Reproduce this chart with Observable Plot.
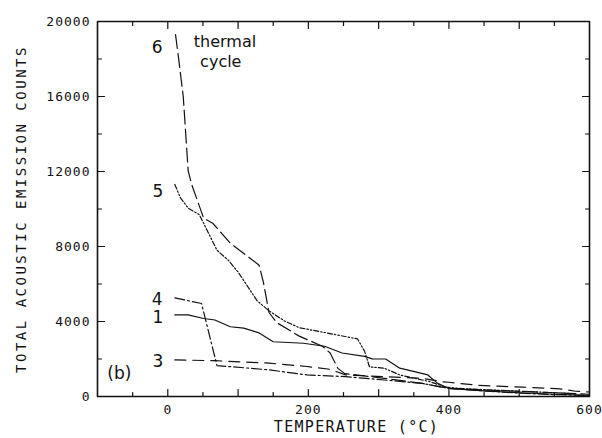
<!DOCTYPE html>
<html><head><meta charset="utf-8">
<script src="https://cdn.jsdelivr.net/npm/d3@7"></script>
<script src="https://cdn.jsdelivr.net/npm/@observablehq/plot@0.6"></script>
<style>
body{margin:0;background:#fff;}
</style></head><body><div id="chart"></div>
<script>
// Curve 1 (solid)
const t1 = [10, 29, 51, 67, 89, 108, 130, 150, 193, 223, 248, 280, 291, 310, 330, 351, 370, 384, 400, 450, 500, 550, 600];
const c1 = [4350, 4350, 4160, 4080, 3720, 3650, 3390, 2920, 2840, 2680, 2320, 2140, 2010, 2000, 1510, 1330, 1150, 700, 430, 300, 200, 120, 60];
// Curve 3 (dashed)
const t3 = [10, 67, 144, 198, 231, 253, 308, 362, 390, 400, 440, 470, 505, 558, 580, 600];
const c3 = [1950, 1910, 1780, 1600, 1450, 1150, 1060, 970, 790, 760, 600, 550, 500, 410, 280, 240];
// Curve 4 (dash-dot)
const t4 = [10, 48, 70, 144, 198, 253, 308, 362, 400, 450, 500, 550, 600];
const c4 = [5260, 4960, 1650, 1420, 1150, 1060, 880, 700, 430, 300, 180, 100, 50];
// Curve 5 (dash-dot-dot)
const t5 = [10, 18, 29, 45, 70, 86, 100, 127, 144, 166, 187, 215, 270, 280, 287, 308, 330, 351, 373, 395, 420, 470, 520, 580];
const c5 = [11310, 10590, 10050, 9690, 7800, 7270, 6640, 5110, 4570, 4030, 3670, 3470, 3070, 2410, 1580, 1510, 1150, 970, 790, 500, 420, 330, 250, 150];
// Curve 6 (long dash)
const t6 = [11, 15, 22, 29, 34, 51, 64, 89, 130, 136, 144, 155, 187, 220, 231, 242, 252, 308, 362, 400, 450, 500, 550, 600];
const c6 = [19300, 18150, 16000, 12030, 11310, 9510, 9240, 8170, 7000, 6100, 4480, 3940, 3220, 2680, 2320, 1500, 1220, 970, 700, 430, 350, 280, 200, 120];

// Curve labels and annotations
const curveLabels = ["6", "5", "4", "1", "3"];
const labelT = [-15, -14, -15, -14, -14];
const labelC = [18630, 10930, 5150, 4200, 1880];
const noteLines = ["thermal", "cycle"];
const noteT = [37, 46];
const noteC = [18930, 17870];
const panelLabel = "(b)";

// Axes
const xDomain = [-100, 600];
const yDomain = [0, 20000];
const xTickLabels = [0, 200, 400, 600];
const yTickLabels = [0, 4000, 8000, 12000, 16000, 20000];
const xMajor = [0, 100, 200, 300, 400, 500];
const xMinor = [-50, 50, 150, 250, 350, 450, 550];
const yMajor = [4000, 8000, 12000, 16000];
const yMinor = [2000, 6000, 10000, 14000, 18000];

const ink = "#111";
const W = 602, H = 438, ML = 97, MR = 13, MT = 21, MB = 42;
// data units per pixel, so tick lengths can be given in pixels
const xPerPx = (xDomain[1] - xDomain[0]) / (W - ML - MR);
const yPerPx = (yDomain[1] - yDomain[0]) / (H - MT - MB);

const series = [
  {t: t1, c: c1, dash: null},
  {t: t3, c: c3, dash: "11,7"},
  {t: t4, c: c4, dash: "10,3,2,3"},
  {t: t5, c: c5, dash: "5,2,1.5,2,1.5,2"},
  {t: t6, c: c6, dash: "14,5"}
];

const lineMarks = series.map(s => Plot.line(s.t.map((t, i) => ({T: t, C: s.c[i]})), {
  x: "T", y: "C", stroke: ink, strokeWidth: 1.2, strokeDasharray: s.dash
}));

// inward ticks on all four sides, as short two-point segments
const tickSegs = [];
let k = 0;
function addTicks(xs, ys, px) {
  for (const v of xs) {
    tickSegs.push({x: v, y: yDomain[0], k}, {x: v, y: yDomain[0] + px * yPerPx, k}); k++;
    tickSegs.push({x: v, y: yDomain[1], k}, {x: v, y: yDomain[1] - px * yPerPx, k}); k++;
  }
  for (const v of ys) {
    tickSegs.push({x: xDomain[0], y: v, k}, {x: xDomain[0] + px * xPerPx, y: v, k}); k++;
    tickSegs.push({x: xDomain[1], y: v, k}, {x: xDomain[1] - px * xPerPx, y: v, k}); k++;
  }
}
addTicks(xMajor, yMajor, 7);
addTicks(xMinor, yMinor, 4);

const frameCorners = [
  {x: xDomain[0], y: yDomain[0]}, {x: xDomain[1], y: yDomain[0]},
  {x: xDomain[1], y: yDomain[1]}, {x: xDomain[0], y: yDomain[1]},
  {x: xDomain[0], y: yDomain[0]}
];

const mono = "'DejaVu Sans Mono', monospace";
const sans = "'DejaVu Sans', sans-serif";

const chart = Plot.plot({
  width: W, height: H,
  marginLeft: ML, marginRight: MR, marginTop: MT, marginBottom: MB,
  x: {domain: xDomain, axis: null},
  y: {domain: yDomain, axis: null},
  style: {fontFamily: mono, fontSize: "13px"},
  marks: [
    Plot.line(tickSegs, {x: "x", y: "y", z: "k", stroke: ink, strokeWidth: 1.2}),
    Plot.line(frameCorners, {x: "x", y: "y", stroke: ink, strokeWidth: 1.6}),
    ...lineMarks,
    Plot.text(xTickLabels, {x: d => d, y: yDomain[0], dy: 8, lineAnchor: "top", text: d => String(d), fontFamily: mono, fontSize: 13, fill: ink}),
    Plot.text(yTickLabels, {x: xDomain[0], y: d => d, dx: -7, textAnchor: "end", text: d => String(d), fontFamily: mono, fontSize: 13, fill: ink}),
    Plot.text(curveLabels, {x: (d, i) => labelT[i], y: (d, i) => labelC[i], text: d => d, fontFamily: sans, fontSize: 17, fill: ink}),
    Plot.text(noteLines, {x: (d, i) => noteT[i], y: (d, i) => noteC[i], text: d => d, textAnchor: "start", fontFamily: sans, fontSize: 16, fill: ink}),
    Plot.text([panelLabel], {x: -69, y: 1250, text: d => d, fontFamily: sans, fontSize: 17, fill: ink}),
    Plot.text(["TEMPERATURE (°C)"], {frameAnchor: "bottom", textAnchor: "middle", dx: 13, dy: 35, text: d => d, fontFamily: mono, fontSize: 15, fill: ink}),
    Plot.text(["TOTAL ACOUSTIC EMISSION COUNTS"], {frameAnchor: "left", textAnchor: "middle", dx: -76, rotate: -90, text: d => d, fontFamily: mono, fontSize: 14, fill: ink})
  ]
});
document.getElementById("chart").appendChild(chart);
d3.select(chart).selectAll("text").each(function() {
  const s = this.textContent;
  if (s.startsWith("TOTAL")) this.setAttribute("letter-spacing", "2.5px");
  else if (s.startsWith("TEMPERATURE")) this.setAttribute("letter-spacing", "1.3px");
  else if (s === "0" || /^\d{3,}$/.test(s)) this.setAttribute("letter-spacing", "1px");
});
</script></body></html>
